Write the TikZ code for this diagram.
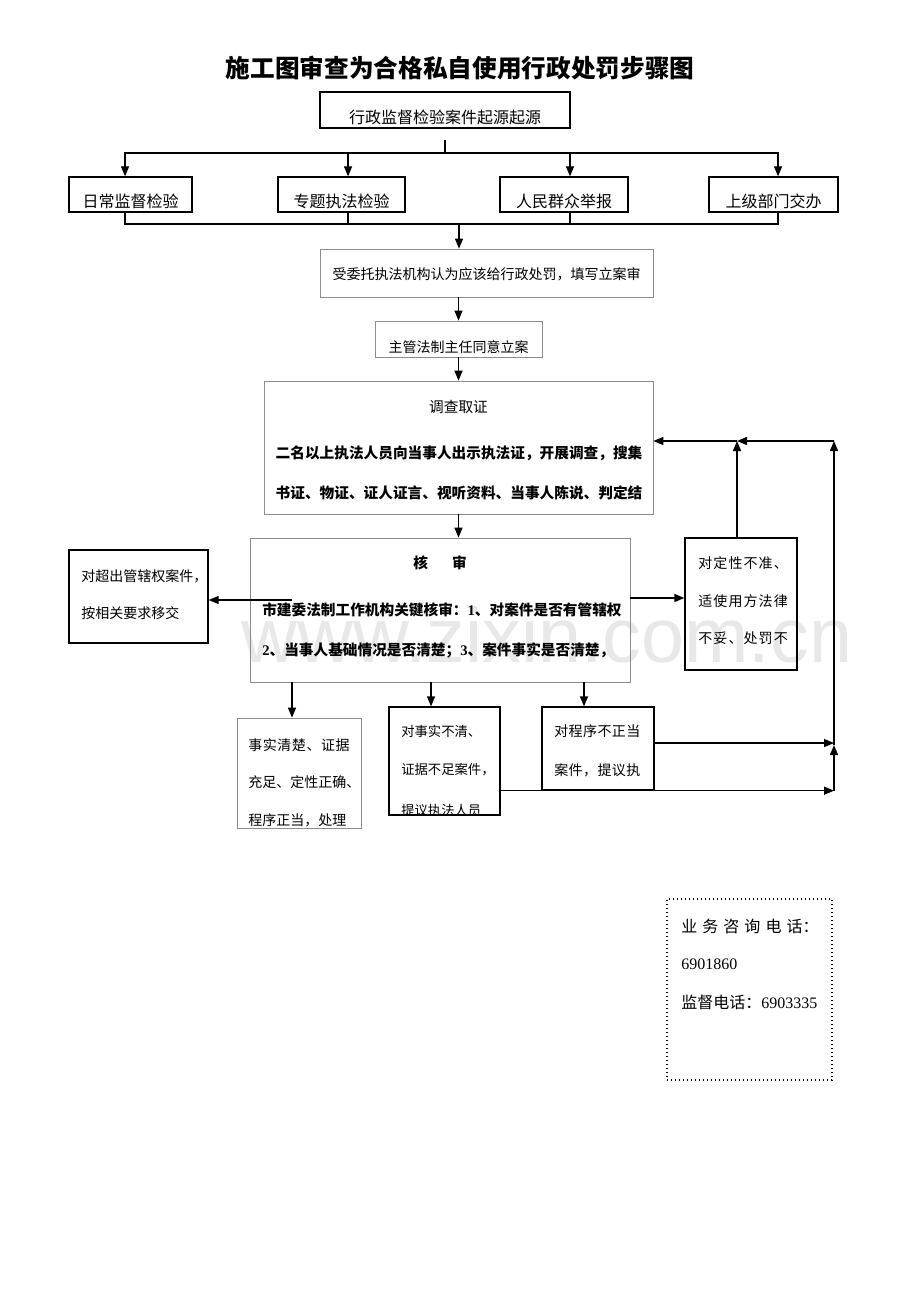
\documentclass[tikz,border=0pt]{standalone}
\usepackage{fontspec}
\setmainfont{Liberation Serif}
\newfontfamily\cjk{Noto Sans CJK SC}
\newfontfamily\wmfont{Liberation Sans}
\usetikzlibrary{arrows,arrows.meta}

\tikzset{
  box/.style={draw, line width=1pt, inner sep=0pt},
  pale/.style={draw=black!45, line width=0.6pt, inner sep=0pt},
  conn/.style={line width=1pt},
  twelve/.style={inner sep=0pt, font=\cjk\fontsize{12pt}{14pt}\selectfont},
  eleven/.style={inner sep=0pt, font=\cjk\fontsize{11pt}{13pt}\selectfont},
  tenhalf/.style={inner sep=0pt, font=\cjk\fontsize{10.5pt}{12pt}\selectfont},
  ten/.style={inner sep=0pt, font=\cjk\fontsize{10pt}{12pt}\selectfont},
  spaced/.style={inner sep=0pt, font=\cjk\fontsize{10.5pt}{12pt}\selectfont\addfontfeature{LetterSpace=#1}},
  heavy/.style={inner sep=0pt, font=\cjk\bfseries\fontsize{11pt}{13pt}\selectfont},
}

\begin{document}
\begin{tikzpicture}[x=0.75pt,y=-0.75pt,>={Triangle[length=7.5pt,width=6pt]}]
\fill[white] (0,0) rectangle (920,1302);
\useasboundingbox (0,0) rectangle (920,1302);
% watermark
\node[text=black!9, font=\wmfont\fontsize{58pt}{60pt}\selectfont] (wm) at (547,635) {www.zixin.com.cn};

\node[font=\cjk\bfseries\fontsize{18.5pt}{20pt}\selectfont] (title) at (460,68) {施工图审查为合格私自使用行政处罚步骤图};

% source of cases
\node[box, minimum width=187.5pt, minimum height=27pt] (src) at (445,110) {};
\node[twelve] (srct) at (445,117) {行政监督检验案件起源起源};

\node[box, minimum width=92.25pt, minimum height=26.25pt] (daily) at (130.5,194.5) {};
\node[box, minimum width=95.25pt, minimum height=26.25pt] (topic) at (341.5,194.5) {};
\node[box, minimum width=96pt, minimum height=26.25pt] (mass) at (564,194.5) {};
\node[box, minimum width=96.75pt, minimum height=26.25pt] (upper) at (773.5,194.5) {};
\node[twelve] (dailyt) at (130.5,201) {日常监督检验};
\node[twelve] (topict) at (341.5,201) {专题执法检验};
\node[twelve] (masst) at (564,201) {人民群众举报};
\node[twelve] (uppert) at (773.5,201) {上级部门交办};

\coordinate (srcdn) at (445,140);
\coordinate (fork) at (445,153);
\coordinate (merge) at (459,224);
\draw[conn] (srcdn) -- (fork);
\draw[conn,->] (fork) -| ([xshift=-4.1pt]daily.north);
\draw[conn,->] (fork) -| ([xshift=4.9pt]topic.north);
\draw[conn,->] (fork) -| ([xshift=4.5pt]mass.north);
\draw[conn,->] (fork) -| ([xshift=3.4pt]upper.north);
\draw[conn] ([xshift=-4.1pt]daily.south) |- (merge);
\draw[conn] ([xshift=4.9pt]topic.south) |- (merge);
\draw[conn] ([xshift=4.5pt]mass.south) |- (merge);
\draw[conn] ([xshift=3.4pt]upper.south) |- (merge);

% filing
\node[pale, minimum width=249.75pt, minimum height=36pt] (order) at (486.5,273) {};
\node[tenhalf] (ordert) at (486.5,274) {受委托执法机构认为应该给行政处罚，填写立案审};
\node[pale, minimum width=125.25pt, minimum height=27pt] (approve) at (458.5,339) {};
\node[tenhalf] (approvet) at (458.5,347) {主管法制主任同意立案};
\draw[conn,->] (merge) -- (merge |- order.north);
\draw[conn,->] (order.south -| approve) -- (approve.north);

% investigation
\node[pale, minimum width=291.75pt, minimum height=99.75pt] (probe) at (458.5,447.5) {};
\node[eleven] (probet) at (458.5,407) {调查取证};
\node[heavy] (probea) at (459,453) {二名以上执法人员向当事人出示执法证，开展调查，搜集};
\node[heavy] (probeb) at (459,493) {书证、物证、证人证言、视听资料、当事人陈说、判定结};
\draw[conn,->] (approve.south) -- (probe.north);

% review
\node[pale, minimum width=285pt, minimum height=108pt] (check) at (440,610) {};
\node[heavy] (checkt) at (440,563) {核\hspace{18pt}审};
\node[heavy, anchor=west] (checka) at (262,610) {市建委法制工作机构关键核审：{\rmfamily\bfseries 1}、对案件是否有管辖权};
\node[heavy, anchor=west] (checkb) at (262,650) {{\rmfamily\bfseries 2}、当事人基础情况是否清楚；{\rmfamily\bfseries 3}、案件事实是否清楚，};
\draw[conn,->] (probe.south) -- (probe.south |- check.north);

% hand over
\node[box, minimum width=104.25pt, minimum height=69.75pt] (handover) at (138.5,596.5) {};
\node[tenhalf, anchor=west] (handovera) at (81,576) {对超出管辖权案件，};
\node[tenhalf, anchor=west] (handoverb) at (81,613) {按相关要求移交};
\coordinate (lstart) at (292,600);
\draw[conn,->] (lstart) -- (lstart -| handover.east);

% redo
\node[box, minimum width=84pt, minimum height=99pt] (redo) at (741,604) {};
\begin{scope}
\clip (redo.north west) rectangle (redo.south east);
\node[spaced=8, anchor=west] (redoa) at (698,563) {对定性不准、};
\node[spaced=8, anchor=west] (redob) at (698,601) {适使用方法律};
\node[spaced=8, anchor=west] (redoc) at (698,638) {不妥、处罚不};
\end{scope}
\coordinate (rstart) at (630,598);
\draw[conn,->] (rstart) -- (rstart -| redo.west);

% results
\node[pale, minimum width=93pt, minimum height=82.5pt] (ok) at (299,773) {};
\begin{scope}
\clip (ok.north west) rectangle (ok.south east);
\node[spaced=4, anchor=west] (oka) at (248,745) {事实清楚、证据};
\node[tenhalf, anchor=west] (okb) at (248,782) {充足、定性正确、};
\node[tenhalf, anchor=west] (okc) at (248,820) {程序正当，处理};
\end{scope}
\node[box, minimum width=83.25pt, minimum height=81pt] (unclear) at (444.5,761) {};
\begin{scope}
\clip (unclear.north west) rectangle (unclear.south east);
\node[ten, anchor=west] (uncleara) at (401,731) {对事实不清、};
\node[ten, anchor=west] (unclearb) at (401,770) {证据不足案件，};
\node[ten, anchor=west] (unclearc) at (401,810) {提议执法人员};
\end{scope}
\node[box, minimum width=84pt, minimum height=62.25pt] (proc) at (598,748.5) {};
\begin{scope}
\clip (proc.north west) rectangle (proc.south east);
\node[spaced=3, anchor=west] (proca) at (554,731) {对程序不正当};
\node[spaced=3, anchor=west] (procb) at (554,770) {案件，提议执};
\end{scope}
\draw[conn,->] (check.south -| lstart) -- (lstart |- ok.north);
\draw[conn,->] ([xshift=-10.1pt]unclear.north |- check.south) -- ([xshift=-10.1pt]unclear.north);
\draw[conn,->] ([xshift=-10.5pt]proc.north |- check.south) -- ([xshift=-10.5pt]proc.north);

% loop back
\coordinate (corner) at (834,441);
\coordinate (mid) at (834,745);
\draw[conn,->] ([xshift=-3pt]redo.north) -- ([xshift=-3pt]redo.north |- corner);
\draw[conn,->] (corner) -- ([xshift=-3pt]redo.north |- corner);
\draw[conn,->] ([xshift=-3pt]redo.north |- corner) -- (corner -| probe.east);
\draw[conn,->] ([yshift=4.1pt]proc.east) -- ([yshift=4.1pt]proc.east -| corner);
\draw[conn,->] (unclear.east |- proc.south) -- (corner |- proc.south);
\draw[conn,->] (corner |- proc.south) -- (mid);
\draw[conn,->] (mid) -- (corner);

% hotline
\node[draw, dotted, line width=1pt, minimum width=123.75pt, minimum height=135.75pt] (hotline) at (749.5,989.5) {};
\node[twelve, anchor=west] (hotlinea) at (681,926) {\makebox[103pt][s]{业\hfill 务\hfill 咨\hfill 询\hfill 电\hfill 话：}};
\node[twelve, anchor=west] (hotlineb) at (681,964) {\rmfamily 6901860};
\node[twelve, anchor=west] (hotlinec) at (681,1002) {监督电话：{\rmfamily 6903335}};
\end{tikzpicture}
\end{document}
